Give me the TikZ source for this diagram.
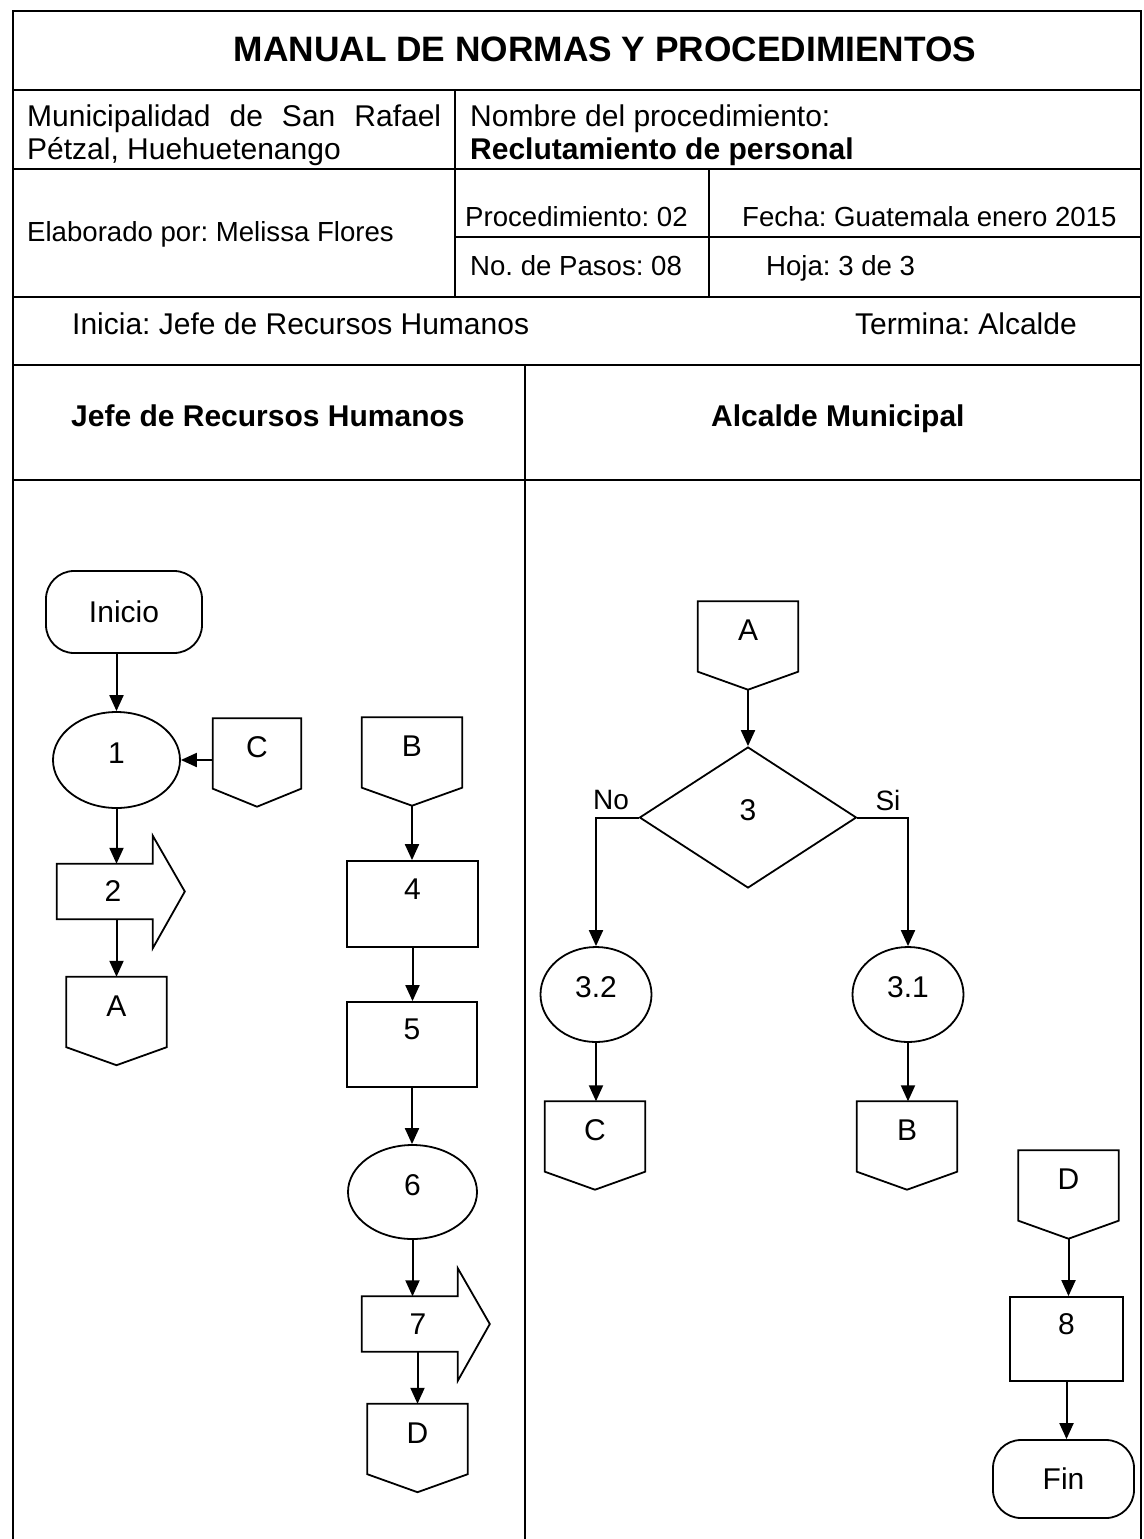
\documentclass[tikz,border=0pt]{standalone}
\usepackage{fontspec}
\setmainfont{Liberation Sans}
\usetikzlibrary{shapes.geometric,arrows.meta,calc}
\frenchspacing
\begin{document}
\begin{tikzpicture}[x=1pt,y=-1pt,
  rule/.style={line width=2pt, line cap=rect},
  divider/.style={line width=1.4pt},
  titlefont/.style={inner sep=0pt, font=\fontsize{35.3}{40}\selectfont\bfseries},
  txt/.style={inner sep=0pt, font=\fontsize{30}{36}\selectfont},
  txtb/.style={inner sep=0pt, font=\fontsize{30}{36}\selectfont\bfseries},
  small/.style={inner sep=0pt, font=\fontsize{27.6}{33}\selectfont},
  shapeline/.style={line width=1.8pt, line join=miter},
  shp/.style={shapeline, draw, inner sep=0pt, font=\fontsize{30}{34}\selectfont},
  term/.style={shp, rectangle, rounded corners=28pt},
  proc/.style={shp, rectangle, text height=21pt, text depth=31pt},
  oval/.style={shp, ellipse, text height=21pt, text depth=15pt},
  decision/.style={shp, diamond, text height=21pt, text depth=15pt},
  offp/.style={inner sep=0pt, minimum width=100pt, minimum height=88pt,
    text height=21pt, text depth=31pt, font=\fontsize{30}{34}\selectfont},
  barrow/.style={inner sep=0pt, minimum width=112pt, minimum height=55pt,
    font=\fontsize{30}{34}\selectfont},
  lbl/.style={inner sep=0pt, font=\fontsize{28}{32}\selectfont},
  arr/.style={line width=2pt, -{Triangle[length=16pt,width=14pt]}},
]
\useasboundingbox (0,0) rectangle (1143,1539);
\fill[white] (0,0) rectangle (1143,1539);

% ---- header table ----
\draw[rule] (13,1539) -- (13,11) -- (1141,11) -- (1141,1539);
\draw[rule] (13,90) -- (1141,90);
\draw[rule] (13,169) -- (1141,169);
\draw[rule] (13,297) -- (1141,297);
\draw[rule] (13,365) -- (1141,365);
\draw[rule] (13,480) -- (1141,480);
\draw[divider] (455,90) -- (455,297);
\draw[divider] (709,169) -- (709,297);
\draw[divider] (455,237) -- (1141,237);
\draw[divider] (525,365) -- (525,1539);

\node[titlefont, anchor=base] (ttl) at (605,61) {MANUAL DE NORMAS Y PROCEDIMIENTOS};
\node[txt, anchor=base west] (mun1) at (27,126) {\makebox[414pt][s]{Municipalidad de San Rafael}};
\node[txt, anchor=base west] (mun2) at (27,159) {Pétzal, Huehuetenango};
\node[txt, anchor=base west] (nom1) at (470,126) {Nombre del procedimiento:};
\node[txtb, anchor=base west] (nom2) at (470,159) {Reclutamiento de personal};
\node[small, anchor=base west] (elab) at (27,241) {Elaborado por: Melissa Flores};
\node[small, anchor=base west] (proc) at (465,226) {Procedimiento: 02};
\node[small, anchor=base west] (fecha) at (742,226) {Fecha: Guatemala enero 2015};
\node[small, anchor=base west] (pasos) at (470,275) {No. de Pasos: 08};
\node[small, anchor=base west] (hoja) at (766,275) {Hoja: 3 de 3};
\node[txt, anchor=base west] (inicia) at (72,334) {Inicia: Jefe de Recursos Humanos};
\node[txt, anchor=base east] (termina) at (1077,334) {Termina: Alcalde};
\node[txtb, anchor=base west] (lane1) at (71,426) {Jefe de Recursos Humanos};
\node[txtb, anchor=base west] (lane2) at (711,426) {Alcalde Municipal};

% ---- lane 1: Jefe de Recursos Humanos ----
\node[term, minimum width=156pt, minimum height=82pt] (inicio) at (124,612) {Inicio};
\node[oval, minimum width=127pt, minimum height=96pt] (one) at (116.5,760) {1};
\node[offp, minimum width=88pt] (cC) at (257,762.5) {C};
\node[barrow] (two) at (113,891.5) {2};
\node[offp] (aL) at (116.5,1021) {A};

\node[offp] (bL) at (412,761.5) {B};
\node[proc, minimum width=131pt, minimum height=86pt] (four) at (412.5,904) {4};
\node[proc, minimum width=130pt, minimum height=85pt] (five) at (412,1044.5) {5};
\node[oval, minimum width=129pt, minimum height=94pt] (six) at (412.5,1192) {6};
\node[barrow] (seven) at (418,1324) {7};
\node[offp] (dL) at (417.5,1448) {D};

% ---- lane 2: Alcalde Municipal ----
\node[offp] (aR) at (748,645.5) {A};
\node[decision, minimum width=217pt, minimum height=141pt] (three) at (748,817.5) {3};
\node[oval, minimum width=111pt, minimum height=95pt] (e32) at (596,994.5) {3.2};
\node[oval, minimum width=111pt, minimum height=95pt] (e31) at (908,994.5) {3.1};
\node[offp] (cR) at (595,1145.5) {C};
\node[offp] (bR) at (907,1145.5) {B};
\node[offp] (dR) at (1068.5,1194.5) {D};
\node[proc, minimum width=113pt, minimum height=84pt] (eight) at (1066.5,1339) {8};
\node[term, minimum width=141pt, minimum height=78pt] (fin) at (1063.5,1479) {Fin};
\node[lbl] (no) at (611,800) {No};
\node[lbl] (si) at (888,800) {Si};

% off-page connector outlines
\foreach \n in {cC,aL,bL,dL,aR,cR,bR,dR}
  \draw[shapeline] (\n.north west) -- (\n.north east) -- ($(\n.south east)+(0,-18)$)
    -- (\n.south) -- ($(\n.south west)+(0,-18)$) -- cycle;

% block-arrow outlines
\foreach \n in {two,seven}
  \draw[shapeline] (\n.north west) -- ++(96,0) -- ++(0,-28) -- ($(\n.west)+(128,0)$)
    -- ($(\n.south west)+(96,29)$) -- ($(\n.south west)+(96,0)$) -- (\n.south west) -- cycle;

% ---- connectors ----
\draw[arr] (one.north |- inicio.south) -- (one.north);
\draw[arr] (cC.west |- one.east) -- (one.east);
\draw[arr] (one.south) -- (one.south |- two.north);
\draw[arr] (aL.north |- two.south) -- (aL.north);
\draw[arr] (bL.south) -- (bL.south |- four.north);
\draw[arr] (four.south) -- (four.south |- five.north);
\draw[arr] (five.south) -- (five.south |- six.north);
\draw[arr] (six.south) -- (six.south |- seven.north);
\draw[arr] (dL.north |- seven.south) -- (dL.north);
\draw[arr] (aR.south) -- (three.north);
\draw[arr] (three.west) -| (e32.north);
\draw[arr] (three.east) -| (e31.north);
\draw[arr] (e32.south) -- (e32.south |- cR.north);
\draw[arr] (e31.south) -- (e31.south |- bR.north);
\draw[arr] (dR.south) -- (dR.south |- eight.north);
\draw[arr] (eight.south) -- (eight.south |- fin.north);
\end{tikzpicture}
\end{document}
